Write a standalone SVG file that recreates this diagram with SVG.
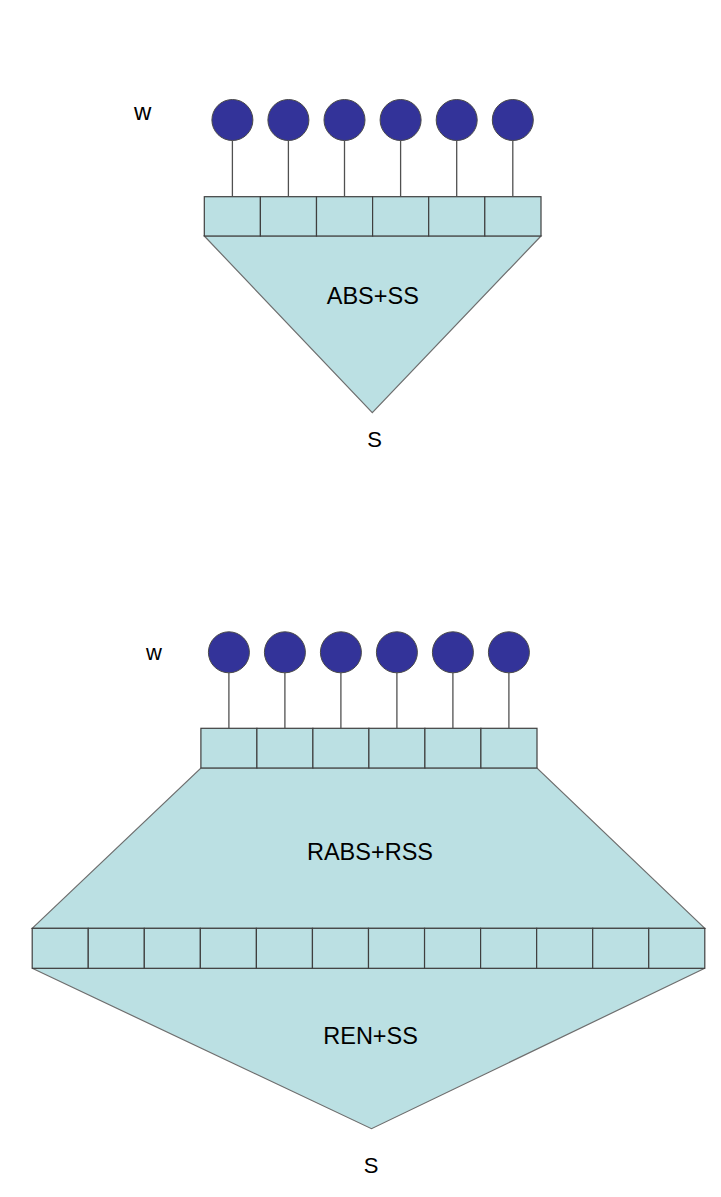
<svg xmlns="http://www.w3.org/2000/svg" width="721" height="1197" viewBox="0 0 721 1197">
<style>
.bg{fill:#ffffff}
.shape{fill:#bbe0e3;stroke:#6e6e6e;stroke-width:1.2}
.cell{fill:#bbe0e3;stroke:#3f3f3f;stroke-width:1.2}
.node{fill:#333399;stroke:#4a4a4a;stroke-width:1}
.conn line{stroke:#505050;stroke-width:1.3}
text{font-family:"Liberation Sans",Arial,sans-serif;font-size:23.5px;fill:#000}
.mid{text-anchor:middle}
.s{font-size:22px}
</style>
<rect class="bg" x="0" y="0" width="721" height="1197"/>

<!-- Top diagram -->
<g id="top-triangle">
<polygon class="shape" points="204.3,236 541,236 372.3,412.7"/>
<text class="mid" x="372.8" y="304">ABS+SS</text>
</g>
<g id="top-strip">
<rect class="cell" x="204.3" y="196.7" width="56.1" height="39.3"/>
<rect class="cell" x="260.4" y="196.7" width="56.1" height="39.3"/>
<rect class="cell" x="316.5" y="196.7" width="56.1" height="39.3"/>
<rect class="cell" x="372.6" y="196.7" width="56.1" height="39.3"/>
<rect class="cell" x="428.7" y="196.7" width="56.1" height="39.3"/>
<rect class="cell" x="484.8" y="196.7" width="56.2" height="39.3"/>
</g>
<g class="conn" id="top-connectors">
<line x1="232.4" y1="140.5" x2="232.4" y2="196.7"/>
<line x1="288.4" y1="140.5" x2="288.4" y2="196.7"/>
<line x1="344.5" y1="140.5" x2="344.5" y2="196.7"/>
<line x1="400.6" y1="140.5" x2="400.6" y2="196.7"/>
<line x1="456.7" y1="140.5" x2="456.7" y2="196.7"/>
<line x1="512.8" y1="140.5" x2="512.8" y2="196.7"/>
</g>
<g id="top-nodes">
<circle class="node" cx="232.4" cy="120" r="20.5"/>
<circle class="node" cx="288.4" cy="120" r="20.5"/>
<circle class="node" cx="344.5" cy="120" r="20.5"/>
<circle class="node" cx="400.6" cy="120" r="20.5"/>
<circle class="node" cx="456.7" cy="120" r="20.5"/>
<circle class="node" cx="512.8" cy="120" r="20.5"/>
</g>
<g id="top-labels">
<text x="134" y="120" style="font-size:24px">w</text>
<text class="mid s" x="374.5" y="446.7">S</text>
</g>

<!-- Bottom diagram -->
<g id="bottom-trapezoid">
<polygon class="shape" points="200.9,768 537,768 704.8,928.3 32.2,928.3"/>
<text class="mid" x="370" y="860">RABS+RSS</text>
</g>
<g id="bottom-triangle">
<polygon class="shape" points="32.2,968.3 704.8,968.3 371.5,1128.7"/>
<text class="mid" x="370.6" y="1044">REN+SS</text>
</g>
<g id="upper-strip">
<rect class="cell" x="200.9" y="728.3" width="56" height="39.7"/>
<rect class="cell" x="256.9" y="728.3" width="56" height="39.7"/>
<rect class="cell" x="312.9" y="728.3" width="56" height="39.7"/>
<rect class="cell" x="368.9" y="728.3" width="56" height="39.7"/>
<rect class="cell" x="424.9" y="728.3" width="56" height="39.7"/>
<rect class="cell" x="480.9" y="728.3" width="56.1" height="39.7"/>
</g>
<g id="lower-strip">
<rect class="cell" x="32.2" y="928.3" width="56.05" height="40"/>
<rect class="cell" x="88.25" y="928.3" width="56.05" height="40"/>
<rect class="cell" x="144.3" y="928.3" width="56.05" height="40"/>
<rect class="cell" x="200.35" y="928.3" width="56.05" height="40"/>
<rect class="cell" x="256.4" y="928.3" width="56.05" height="40"/>
<rect class="cell" x="312.45" y="928.3" width="56.05" height="40"/>
<rect class="cell" x="368.5" y="928.3" width="56.05" height="40"/>
<rect class="cell" x="424.55" y="928.3" width="56.05" height="40"/>
<rect class="cell" x="480.6" y="928.3" width="56.05" height="40"/>
<rect class="cell" x="536.65" y="928.3" width="56.05" height="40"/>
<rect class="cell" x="592.7" y="928.3" width="56.05" height="40"/>
<rect class="cell" x="648.75" y="928.3" width="56.05" height="40"/>
</g>
<g class="conn" id="bottom-connectors">
<line x1="228.9" y1="672.8" x2="228.9" y2="728.3"/>
<line x1="284.9" y1="672.8" x2="284.9" y2="728.3"/>
<line x1="340.9" y1="672.8" x2="340.9" y2="728.3"/>
<line x1="396.9" y1="672.8" x2="396.9" y2="728.3"/>
<line x1="452.9" y1="672.8" x2="452.9" y2="728.3"/>
<line x1="508.9" y1="672.8" x2="508.9" y2="728.3"/>
</g>
<g id="bottom-nodes">
<circle class="node" cx="228.9" cy="652.3" r="20.5"/>
<circle class="node" cx="284.9" cy="652.3" r="20.5"/>
<circle class="node" cx="340.9" cy="652.3" r="20.5"/>
<circle class="node" cx="396.9" cy="652.3" r="20.5"/>
<circle class="node" cx="452.9" cy="652.3" r="20.5"/>
<circle class="node" cx="508.9" cy="652.3" r="20.5"/>
</g>
<g id="bottom-labels">
<text x="146" y="659.5" style="font-size:22px">w</text>
<text class="mid s" x="371" y="1172.7">S</text>
</g>
</svg>
